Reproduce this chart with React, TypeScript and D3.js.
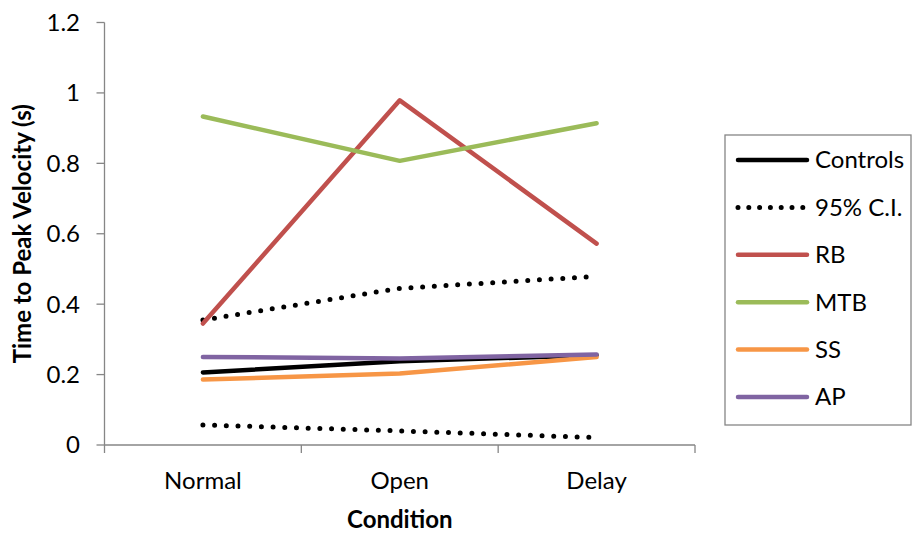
import React from "react";
import * as d3 from "d3";

const categories = ["Normal", "Open", "Delay"];
const yTicks = [0, 0.2, 0.4, 0.6, 0.8, 1, 1.2];
const controls = [0.206, 0.238, 0.255];
const ciUpper = [0.355, 0.445, 0.479];
const ciLower = [0.057, 0.040, 0.021];
const rb = [0.345, 0.979, 0.572];
const mtb = [0.933, 0.807, 0.914];
const ss = [0.186, 0.203, 0.25];
const ap = [0.25, 0.246, 0.257];

const seriesList = [
  { name: "Controls", values: controls, color: "#000000", dotted: false, legend: true },
  { name: "95% C.I.", values: ciUpper, color: "#000000", dotted: true, legend: true },
  { name: "95% C.I. lower", values: ciLower, color: "#000000", dotted: true, legend: false },
  { name: "RB", values: rb, color: "#C0504D", dotted: false, legend: true },
  { name: "MTB", values: mtb, color: "#9BBB59", dotted: false, legend: true },
  { name: "SS", values: ss, color: "#F79646", dotted: false, legend: true },
  { name: "AP", values: ap, color: "#8064A2", dotted: false, legend: true },
];

const FONT = "Lato, 'Open Sans', sans-serif";
const FS = 24;

export default function App() {
  const W = 912, H = 536;
  const left = 104.5, right = 695, top = 22.5, bottom = 445;
  const x = d3.scaleBand<string>().domain(categories).range([left, right]).padding(0);
  const y = d3.scaleLinear().domain([0, 1.2]).range([bottom, top]);
  const cx = (c: string) => (x(c) ?? 0) + x.bandwidth() / 2;
  const line = d3.line<number>().x((_, i) => cx(categories[i])).y((v) => y(v));
  const axisColor = "#868686";
  const bandEdges = [...categories.map((c) => x(c) ?? 0), right];

  const legendItems = seriesList.filter((s) => s.legend);
  const legX = 725, legY = 135, legW = 186, legH = 290;
  const rowY = (i: number) => 160 + i * 47.4;

  return (
    <svg width={W} height={H} style={{ position: "absolute", left: 0, top: 0, background: "#fff" }}>
      <rect x={0} y={0} width={W} height={H} fill="#fff" />
      {/* y axis */}
      <line x1={left} x2={left} y1={top} y2={bottom} stroke={axisColor} strokeWidth={1.3} />
      {yTicks.map((t) => (
        <g key={t}>
          <line x1={left - 8} x2={left} y1={y(t)} y2={y(t)} stroke={axisColor} strokeWidth={1.3} />
          <text x={80} y={y(t)} dy="0.35em" textAnchor="end" fontFamily={FONT} fontSize={FS} fill="#000">
            {String(t)}
          </text>
        </g>
      ))}
      {/* x axis */}
      <line x1={left} x2={right} y1={bottom} y2={bottom} stroke={axisColor} strokeWidth={1.3} />
      {bandEdges.map((e, i) => (
        <line key={i} x1={e} x2={e} y1={bottom} y2={bottom + 8} stroke={axisColor} strokeWidth={1.3} />
      ))}
      {categories.map((c) => (
        <text key={c} x={cx(c)} y={489} textAnchor="middle" fontFamily={FONT} fontSize={FS} fill="#000">
          {c}
        </text>
      ))}
      <text x={(left + right) / 2} y={528} textAnchor="middle" fontFamily={FONT} fontSize={FS} fontWeight="bold" fill="#000">
        Condition
      </text>
      <text
        transform={`translate(31, ${(top + bottom) / 2}) rotate(-90)`}
        textAnchor="middle"
        fontFamily={FONT}
        fontSize={FS}
        fontWeight="bold"
        fill="#000"
      >
        Time to Peak Velocity (s)
      </text>
      {/* series */}
      {seriesList.map((s) => (
        <path
          key={s.name}
          d={line(s.values) ?? ""}
          fill="none"
          stroke={s.color}
          strokeWidth={s.dotted ? 5 : 4.5}
          strokeLinecap="round"
          strokeLinejoin="round"
          strokeDasharray={s.dotted ? "0 11.7" : undefined}
        />
      ))}
      {/* legend */}
      <rect x={legX} y={legY} width={legW} height={legH} fill="#fff" stroke={axisColor} strokeWidth={1.3} />
      {legendItems.map((s, i) => (
        <g key={s.name}>
          <line
            x1={738}
            x2={807}
            y1={rowY(i)}
            y2={rowY(i)}
            stroke={s.color}
            strokeWidth={s.dotted ? 5 : 4.5}
            strokeLinecap="round"
            strokeDasharray={s.dotted ? "0 10.8" : undefined}
          />
          <text x={815} y={rowY(i)} dy="0.35em" fontFamily={FONT} fontSize={FS} fill="#000">
            {s.name}
          </text>
        </g>
      ))}
    </svg>
  );
}
